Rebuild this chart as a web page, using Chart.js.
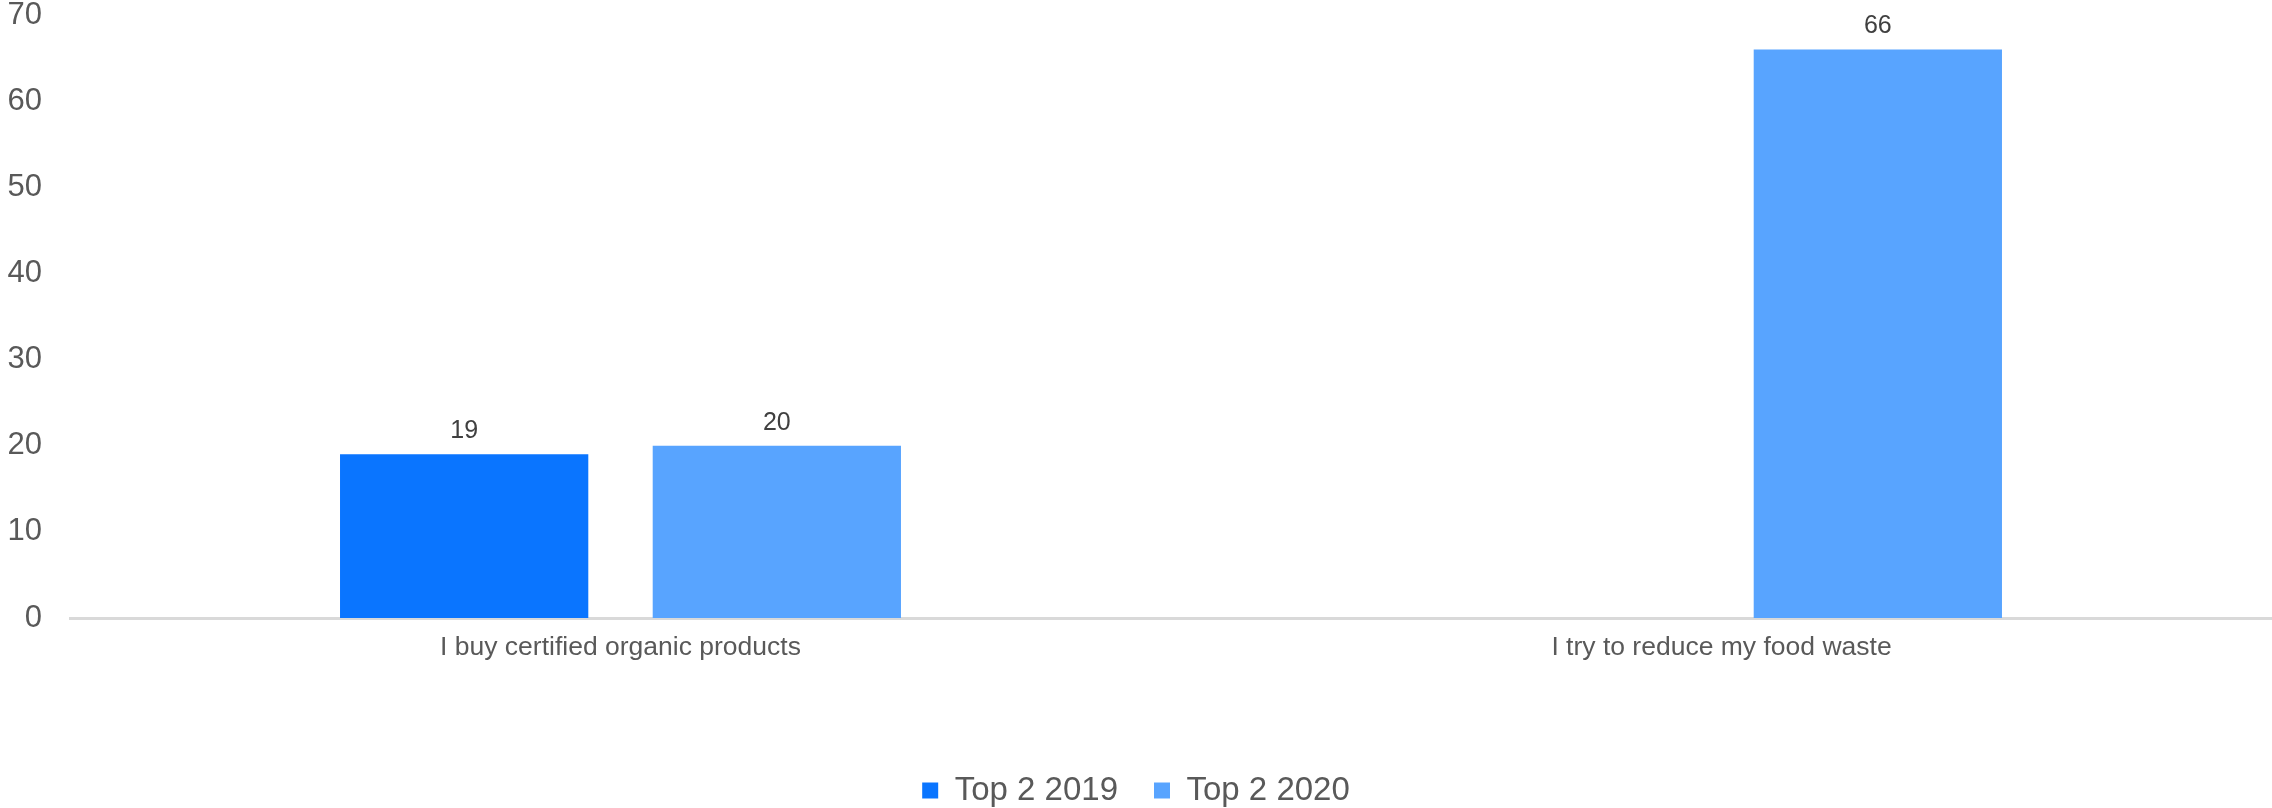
<!DOCTYPE html>
<html>
<head>
<meta charset="utf-8">
<title>Top 2 2019 vs 2020</title>
<script src="https://cdn.jsdelivr.net/npm/chart.js"></script>
<style>
  html, body { margin: 0; padding: 0; background: #fff; }
  #wrap { width: 2272px; height: 808px; }
</style>
</head>
<body>
<div id="wrap"><canvas id="chart" width="2272" height="808"></canvas></div>
<script>
const categories = ['I buy certified organic products', 'I try to reduce my food waste'];
const top2019 = [19, null];
const top2020 = [20, 66];
const yTicks = [0, 10, 20, 30, 40, 50, 60, 70];

const FONT = "Arial, 'Liberation Sans', sans-serif";

// value labels above each bar
const barValues = {
  id: 'barValues',
  afterDatasetsDraw(chart) {
    const ctx = chart.ctx;
    ctx.save();
    ctx.font = '25px ' + FONT;
    ctx.fillStyle = '#404040';
    ctx.textAlign = 'center';
    ctx.textBaseline = 'alphabetic';
    chart.data.datasets.forEach((ds, i) => {
      chart.getDatasetMeta(i).data.forEach((bar, j) => {
        const v = ds.data[j];
        if (v == null) return;
        ctx.fillText(String(v), bar.x, bar.y - 16);
      });
    });
    ctx.restore();
  }
};

new Chart(document.getElementById('chart'), {
  type: 'bar',
  data: {
    labels: categories,
    datasets: [
      { label: 'Top 2 2019', data: top2019, backgroundColor: '#0A75FF', borderWidth: 0 },
      { label: 'Top 2 2020', data: top2020, backgroundColor: '#58A4FF', borderWidth: 0 }
    ]
  },
  options: {
    responsive: false,
    animation: false,
    layout: { padding: { top: 0, right: 0, bottom: -9, left: 0 } },
    datasets: { bar: { categoryPercentage: 0.568, barPercentage: 0.794 } },
    plugins: {
      tooltip: { enabled: false },
      legend: {
        position: 'bottom',
        labels: {
          boxWidth: 16,
          boxHeight: 16,
          padding: 36,
          color: '#595959',
          font: { family: FONT, size: 33 }
        }
      }
    },
    scales: {
      x: {
        grid: { display: false, drawTicks: false },
        border: { display: true, color: '#d9d9d9', width: 3 },
        ticks: { color: '#595959', padding: 14, font: { family: FONT, size: 26.5 } },
        afterFit(s) { s.height = 120; }
      },
      y: {
        min: 0,
        max: 70,
        afterBuildTicks(s) { s.ticks = yTicks.map(v => ({ value: v })); },
        grid: { display: false, drawTicks: false },
        border: { display: false },
        ticks: { color: '#595959', padding: 28, font: { family: FONT, size: 31, lineHeight: 1 } },
        afterFit(s) {
          // keep the label gap without letting it push the plot top down
          s.width = 70;
          s.paddingTop = 15;
          s.paddingBottom = 15;
        }
      }
    }
  },
  plugins: [barValues]
});
</script>
</body>
</html>
